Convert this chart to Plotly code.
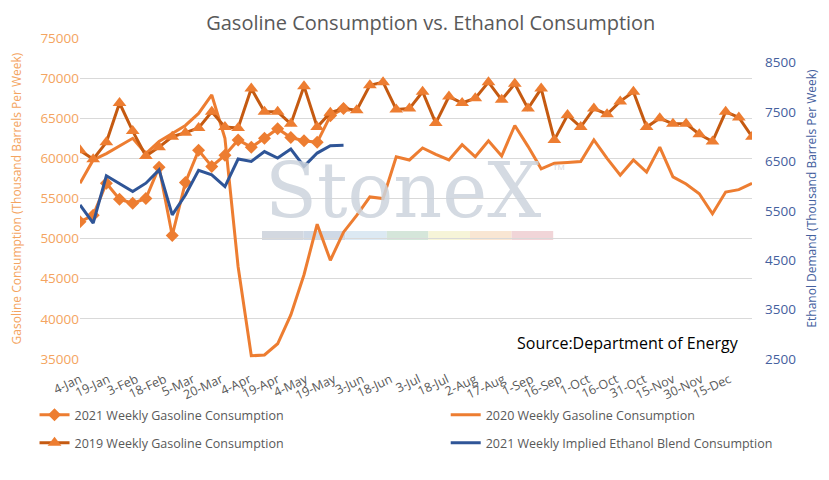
import pandas as pd
import plotly.graph_objects as go

# weekly values (thousand barrels per week)
weeks = pd.date_range("2021-01-04", periods=52, freq="7D")

gas_2021 = [52100, 52900, 56900, 54900, 54400, 55000, 58900, 50400, 57000, 61000,
            59000, 60400, 62300, 61400, 62500, 63700, 62600, 62200, 62000, 65300,
            66200]

gas_2020 = [56900, 59800, 60600, 61500, 62500, 60600, 62100, 63100, 64100, 65600,
            67900, 62500, 46500, 35400, 35500, 36900, 40500, 45500, 51800, 47300,
            50800, 52900, 55200, 55000, 60200, 59800, 61300, 60500, 59800, 61700,
            60200, 62200, 60300, 64100, 61500, 58700, 59400, 59500, 59600, 62300,
            60000, 57900, 59800, 58300, 61400, 57700, 56800, 55600, 53100, 55800,
            56100, 56900]

gas_2019 = [61000, 59900, 62000, 66900, 63400, 60300, 61400, 62700, 63200, 63800,
            65800, 63900, 63800, 68700, 65800, 65800, 64300, 69000, 63900, 65700,
            66200, 66000, 69100, 69500, 66100, 66200, 68300, 64400, 67700, 66900,
            67500, 69500, 67300, 69300, 66200, 68700, 62300, 65400, 63900, 66200,
            65500, 67100, 68300, 63900, 65000, 64300, 64300, 63000, 62100, 65800,
            65100, 62700]

ethanol_2021 = [5620, 5250, 6210, 6050, 5890, 6060, 6330, 5420, 5820, 6320,
                6230, 5990, 6550, 6500, 6700, 6570, 6750, 6400, 6670, 6820,
                6830]

tick_labels = ['4-Jan', '19-Jan', '3-Feb', '18-Feb', '5-Mar', '20-Mar', '4-Apr', '19-Apr',
               '4-May', '19-May', '3-Jun', '18-Jun', '3-Jul', '18-Jul', '2-Aug', '17-Aug',
               '1-Sep', '16-Sep', '1-Oct', '16-Oct', '31-Oct', '15-Nov', '30-Nov', '15-Dec']
tick_dates = pd.date_range("2021-01-04", periods=len(tick_labels), freq="15D")

orange = "#ED7D31"
dark_orange = "#C55A11"
blue = "#2F5597"

fig = go.Figure()

fig.add_trace(go.Scatter(x=weeks[:len(gas_2021)], y=gas_2021, name="2021 Weekly Gasoline Consumption",
                         mode="lines+markers", line=dict(color=orange, width=3),
                         marker=dict(symbol="diamond", size=10, color=orange), legend="legend"))
fig.add_trace(go.Scatter(x=weeks, y=gas_2020, name="2020 Weekly Gasoline Consumption",
                         mode="lines", line=dict(color=orange, width=3), legend="legend2"))
fig.add_trace(go.Scatter(x=weeks, y=gas_2019, name="2019 Weekly Gasoline Consumption",
                         mode="lines+markers", line=dict(color=dark_orange, width=3),
                         marker=dict(symbol="triangle-up", size=12, color=orange), legend="legend3"))
fig.add_trace(go.Scatter(x=weeks[:len(ethanol_2021)], y=ethanol_2021,
                         name="2021 Weekly Implied Ethanol Blend Consumption",
                         mode="lines", line=dict(color=blue, width=3), yaxis="y2", legend="legend4"))

# StoneX watermark
fig.add_annotation(text="StoneX", xref="paper", yref="paper", x=0.48, y=0.525,
                   showarrow=False, font=dict(family="DejaVu Serif", size=76, color="#CDD4DD"),
                   opacity=0.85)
fig.add_annotation(text="TM", xref="paper", yref="paper", x=0.725, y=0.6,
                   showarrow=False, font=dict(family="Open Sans", size=8, color="#D0D6DE"))
bar_cols = ["#D3D8E0", "#CFD9E6", "#DCE9F3", "#D5E6DA", "#F6F4D8", "#F9E6D3", "#F1D5D8"]
for k, c in enumerate(bar_cols):
    x0 = (262 - 80 + k * 41.6) / 672
    fig.add_shape(type="rect", xref="paper", yref="paper", layer="below",
                  x0=x0, x1=x0 + 41.6 / 672, y0=(359 - 240) / 321, y1=(359 - 231) / 321,
                  line=dict(width=0), fillcolor=c)

fig.add_annotation(text="Source:Department of Energy", xref="paper", yref="paper",
                   x=0.984, y=0.05, xanchor="right", yanchor="middle", showarrow=False,
                   font=dict(family="Open Sans", size=16, color="black"))

leg = dict(orientation="h", xanchor="left", yanchor="top", xref="container", yref="container",
           font=dict(size=12.5, color="#595959"), bgcolor="rgba(0,0,0,0)")

# page has an 8px body margin, so margins are trimmed by 8 on the top/left
fig.update_layout(
    width=829, height=480,
    margin=dict(l=72, r=85, t=30, b=129),
    plot_bgcolor="white", paper_bgcolor="white",
    font=dict(family="Open Sans", size=12, color="#595959"),
    title=dict(text="Gasoline Consumption vs. Ethanol Consumption", x=0.51, xanchor="center",
               y=0.968, yanchor="middle", font=dict(size=20, color="#595959")),
    showlegend=True,
    legend=dict(leg, x=0.032, y=0.183),
    legend2=dict(leg, x=0.528, y=0.183),
    legend3=dict(leg, x=0.032, y=0.125),
    legend4=dict(leg, x=0.528, y=0.125),
    xaxis=dict(range=[weeks[0], weeks[-1]], tickvals=tick_dates, ticktext=tick_labels,
               tickangle=-25, showgrid=False, showline=False, zeroline=False, automargin=False,
               ticklabelstandoff=10, tickfont=dict(size=12.5, color="#595959")),
    yaxis=dict(range=[35000, 75000], dtick=5000, tickformat="d", showgrid=True,
               gridcolor="#D9D9D9", gridwidth=1, automargin=False,
               zeroline=False, tickfont=dict(size=13.5, color="#F4A460"),
               title=dict(text="Gasoline Consumption (Thousand Barrels Per Week)",
                          font=dict(size=12, color="#F4A460"), standoff=18)),
    yaxis2=dict(range=[2500, 9000], tickvals=[2500, 3500, 4500, 5500, 6500, 7500, 8500],
                overlaying="y", side="right", showgrid=False, zeroline=False, automargin=False,
                ticklabelstandoff=12, tickfont=dict(size=13.5, color="#44609E"),
                title=dict(text="Ethanol Demand (Thousand Barrels Per Week)",
                           font=dict(size=12, color="#44609E"), standoff=12)),
)

fig.write_html("out.html")
